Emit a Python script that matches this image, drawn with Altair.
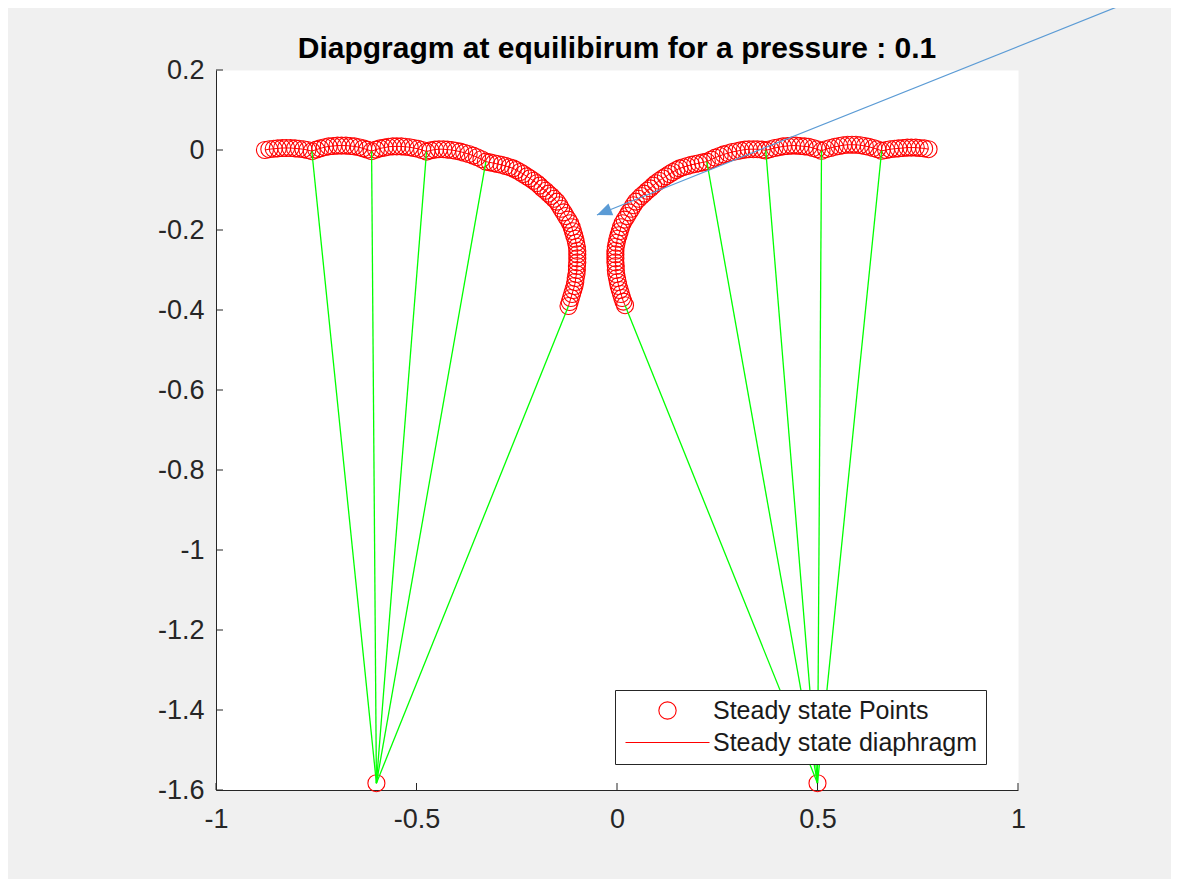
import altair as alt
import pandas as pd

title_text = "Diapgragm at equilibirum for a pressure : 0.1"
series_names = ["Steady state Points", "Steady state diaphragm"]

# left diaphragm (outer free end -> inner end)
left_x = [
    -0.878, -0.867, -0.856, -0.846, -0.835, -0.825, -0.814, -0.803, -0.793, -0.782, -0.772, -0.761,
    -0.750, -0.740, -0.729, -0.719, -0.708, -0.697, -0.687, -0.676, -0.665, -0.655, -0.644, -0.633, -0.623, -0.612,
    -0.601, -0.591, -0.580, -0.570, -0.559, -0.549, -0.538, -0.528, -0.517, -0.507, -0.496, -0.486, -0.475,
    -0.465, -0.454, -0.444, -0.433, -0.423, -0.412, -0.402, -0.391, -0.381, -0.370, -0.359, -0.349, -0.338, -0.327,
    -0.317, -0.307, -0.298, -0.288, -0.278, -0.268, -0.259,
    -0.251, -0.242, -0.234, -0.225, -0.217, -0.208, -0.200,
    -0.193, -0.186, -0.178, -0.171, -0.164, -0.157, -0.150,
    -0.144, -0.139, -0.133, -0.128, -0.122, -0.117,
    -0.113, -0.110, -0.107, -0.104, -0.102, -0.100,
    -0.099, -0.099, -0.099, -0.099, -0.100, -0.100,
    -0.101, -0.103, -0.104, -0.106, -0.109,
    -0.112, -0.115, -0.118, -0.121,
]
left_y = [
    0.000, 0.002, 0.003, 0.004, 0.005, 0.005, 0.005, 0.004, 0.003, 0.002, 0.000, -0.003,
    0.001, 0.004, 0.007, 0.009, 0.010, 0.011, 0.011, 0.011, 0.010, 0.009, 0.007, 0.004, 0.001, -0.003,
    0.001, 0.004, 0.006, 0.008, 0.009, 0.009, 0.009, 0.008, 0.007, 0.005, 0.003, 0.000, -0.004,
    -0.001, 0.001, 0.002, 0.002, 0.001, 0.000, -0.002, -0.004, -0.007, -0.010, -0.014, -0.018, -0.023, -0.029,
    -0.031, -0.033, -0.035, -0.037, -0.040, -0.043, -0.046,
    -0.050, -0.055, -0.060, -0.066, -0.071, -0.077, -0.083,
    -0.089, -0.096, -0.102, -0.109, -0.115, -0.122, -0.129,
    -0.138, -0.147, -0.156, -0.165, -0.174, -0.183,
    -0.193, -0.203, -0.213, -0.222, -0.232, -0.242,
    -0.252, -0.261, -0.271, -0.281, -0.290, -0.300,
    -0.310, -0.320, -0.330, -0.340, -0.350,
    -0.360, -0.370, -0.380, -0.390,
]

# right diaphragm (outer free end -> inner end)
right_x = [
    0.777, 0.766, 0.755, 0.745, 0.734, 0.724, 0.713, 0.702, 0.692, 0.681, 0.671, 0.660,
    0.649, 0.639, 0.628, 0.618, 0.607, 0.596, 0.586, 0.575, 0.564, 0.554, 0.543, 0.532, 0.521, 0.510,
    0.499, 0.489, 0.478, 0.468, 0.457, 0.446, 0.436, 0.425, 0.414, 0.404, 0.393, 0.382, 0.371,
    0.361, 0.350, 0.340, 0.329, 0.319, 0.308, 0.298, 0.287, 0.277, 0.266, 0.256, 0.245, 0.235, 0.224,
    0.214, 0.204, 0.195, 0.185, 0.175, 0.165, 0.156,
    0.148, 0.139, 0.131, 0.122, 0.114, 0.105, 0.097,
    0.090, 0.083, 0.075, 0.068, 0.061, 0.054, 0.047,
    0.041, 0.036, 0.030, 0.025, 0.019, 0.014,
    0.010, 0.007, 0.004, 0.001, -0.001, -0.003,
    -0.004, -0.004, -0.004, -0.004, -0.003, -0.003,
    -0.002, 0.000, 0.002, 0.004, 0.007,
    0.010, 0.013, 0.016, 0.020,
]
right_y = [
    0.002, 0.004, 0.005, 0.006, 0.006, 0.006, 0.005, 0.004, 0.003, 0.002, 0.000, -0.002,
    0.002, 0.005, 0.008, 0.010, 0.012, 0.013, 0.013, 0.013, 0.012, 0.010, 0.008, 0.005, 0.002, -0.002,
    0.002, 0.005, 0.008, 0.009, 0.010, 0.011, 0.011, 0.010, 0.009, 0.007, 0.005, 0.002, -0.001,
    0.001, 0.002, 0.002, 0.002, 0.001, -0.001, -0.003, -0.005, -0.008, -0.011, -0.015, -0.019, -0.024, -0.029,
    -0.031, -0.033, -0.035, -0.037, -0.040, -0.043, -0.046,
    -0.050, -0.055, -0.060, -0.066, -0.071, -0.077, -0.083,
    -0.089, -0.096, -0.102, -0.109, -0.115, -0.122, -0.129,
    -0.138, -0.147, -0.156, -0.165, -0.174, -0.183,
    -0.193, -0.203, -0.213, -0.222, -0.232, -0.242,
    -0.252, -0.261, -0.271, -0.281, -0.290, -0.300,
    -0.310, -0.320, -0.330, -0.340, -0.350,
    -0.360, -0.370, -0.379, -0.388,
]

# fixed anchor points at the bottom
anchor_x = [-0.600, 0.500]
anchor_y = [-1.583, -1.583]

# springs (green lines): bottom anchor -> attachment point
spring_x1 = [-0.600, -0.600, -0.600, -0.600, -0.600, 0.500, 0.500, 0.500, 0.500, 0.500]
spring_y1 = [-1.583, -1.583, -1.583, -1.583, -1.583, -1.583, -1.583, -1.583, -1.583, -1.583]
spring_x2 = [-0.761, -0.612, -0.475, -0.327, -0.121, 0.224, 0.371, 0.510, 0.660, 0.020]
spring_y2 = [-0.003, -0.003, -0.004, -0.029, -0.390, -0.029, -0.001, -0.002, -0.002, -0.388]

# annotation arrow (start, tip)
arrow_x = [1.29, -0.050]
arrow_y = [0.375, -0.1625]

x_ticks = [-1, -0.5, 0, 0.5, 1]
y_ticks = [-1.6, -1.4, -1.2, -1, -0.8, -0.6, -0.4, -0.2, 0, 0.2]

# ---- tables ----
pts = pd.DataFrame({
    "x": left_x + right_x + anchor_x,
    "y": left_y + right_y + anchor_y,
})
pts["series"] = series_names[0]

curve = pd.DataFrame({
    "x": left_x + right_x,
    "y": left_y + right_y,
    "side": ["L"] * len(left_x) + ["R"] * len(right_x),
    "idx": list(range(len(left_x))) + list(range(len(right_x))),
})

springs = pd.DataFrame({"x": spring_x1, "y": spring_y1, "x2": spring_x2, "y2": spring_y2})
arrow = pd.DataFrame({"x": arrow_x, "y": arrow_y, "idx": [0, 1]})
arrow_tip = arrow.iloc[[1]]
xt = pd.DataFrame({"v": x_ticks})
yt = pd.DataFrame({"v": y_ticks})
title_df = pd.DataFrame({"t": [title_text]})

xscale = alt.Scale(domain=[-1, 1], nice=False, zero=False)
yscale = alt.Scale(domain=[-1.6, 0.2], nice=False, zero=False)

AX = "#262626"
FONT = "Liberation Sans"
label_expr = "(datum.value < 0 ? '-' : '') + format(abs(datum.value), '~g')"

x_axis = alt.Axis(values=x_ticks, labelExpr=label_expr, ticks=False, tickSize=0, domain=True,
                  domainColor=AX, domainWidth=1, grid=False, labelFontSize=27, labelFont=FONT,
                  labelColor=AX, labelPadding=16, labelFlush=False, labelOverlap=False)
y_axis = alt.Axis(values=y_ticks, labelExpr=label_expr, ticks=False, tickSize=0, domain=True,
                  domainColor=AX, domainWidth=1, grid=False, labelFontSize=27, labelFont=FONT,
                  labelColor=AX, labelPadding=12, labelFlush=False, labelOverlap=False)

X = lambda f="x": alt.X(f"{f}:Q", scale=xscale, title=None)
Y = lambda f="y": alt.Y(f"{f}:Q", scale=yscale, title=None)

legend_spec = alt.Legend(
    title=None, orient="none", legendX=399, legendY=620,
    fillColor="white", strokeColor=AX, padding=8,
    symbolSize=300, symbolStrokeWidth=1.1, symbolStrokeColor="#ff0000",
    symbolFillColor="transparent", symbolOffset=32, labelOffset=33,
    labelFontSize=25, labelFont=FONT, labelColor="#1a1a1a", rowPadding=6,
    labelLimit=500,
)

points_layer = alt.Chart(pts).mark_point(filled=False, strokeWidth=1.1, size=290, opacity=1).encode(
    x=alt.X("x:Q", scale=xscale, title=None, axis=x_axis),
    y=alt.Y("y:Q", scale=yscale, title=None, axis=y_axis),
    color=alt.Color(
        "series:N",
        scale=alt.Scale(domain=series_names, range=["#ff0000", "#ff0000"]),
        legend=legend_spec,
    ),
    shape=alt.Shape(
        "series:N",
        scale=alt.Scale(domain=series_names, range=["circle", "M-4.85,0H4.85"]),
        legend=legend_spec,
    ),
)

line_layer = alt.Chart(curve).mark_line(color="#ff0000", strokeWidth=1).encode(
    x=X(), y=Y(), detail="side:N", order="idx:Q"
)

spring_layer = alt.Chart(springs).mark_rule(color="#00ff00", strokeWidth=1.3).encode(
    x=X(), y=Y(), x2="x2:Q", y2="y2:Q"
)

xtick_layer = alt.Chart(xt).mark_rule(color=AX, strokeWidth=1).encode(
    x=X("v"), y=alt.value(720), y2=alt.value(713)
)
ytick_layer = alt.Chart(yt).mark_rule(color=AX, strokeWidth=1).encode(
    y=Y("v"), x=alt.value(0), x2=alt.value(7)
)

arrow_line = alt.Chart(arrow).mark_line(color="#5b9bd5", strokeWidth=1.2, clip=False).encode(
    x=X(), y=Y(), order="idx:Q"
)
arrow_head = alt.Chart(arrow_tip).mark_point(
    shape="M0,0L-0.85,2L0.85,2Z", filled=True, color="#5b9bd5", size=225, angle=248,
    opacity=1, clip=False, strokeWidth=0
).encode(x=X(), y=Y())

title_layer = alt.Chart(title_df).mark_text(
    font=FONT, fontSize=30, fontWeight="bold", color="#000000",
    align="center", baseline="alphabetic", clip=False
).encode(text="t:N", x=alt.value(401), y=alt.value(-12))

chart = alt.layer(
    line_layer, points_layer, spring_layer, xtick_layer, ytick_layer, arrow_line, arrow_head,
    title_layer
).properties(
    width=802,
    height=720,
    autosize=alt.AutoSizeParams(type="none"),
    padding={"left": 208, "top": 62, "right": 153, "bottom": 89},
    background="#f0f0f0",
).configure_view(fill="white", stroke="transparent")

chart.save("out.html", embed_options={"renderer": "svg", "actions": False})
